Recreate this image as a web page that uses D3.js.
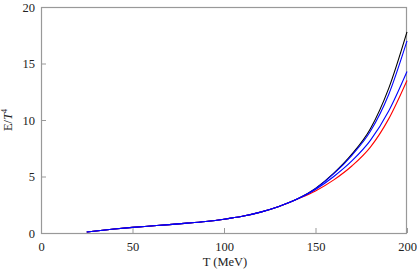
<!DOCTYPE html>
<html><head><meta charset="utf-8">
<script src="https://cdn.jsdelivr.net/npm/d3@7"></script>
<style>body{margin:0;background:#fff}svg{display:block}</style>
</head><body><svg id="c" width="417" height="271"></svg>
<script>
const temps = [25,30,40,50,60,70,80,90,100,110,120,130,140,150,160,170,180,190,200];
const common = [0.09,0.18,0.35,0.5,0.62,0.74,0.87,1.02,1.22,1.48,1.85,2.35,3.0];
const blackTail = [3.95,5.3,7.0,9.23,12.8,17.8];
const blueUpperTail = [3.92,5.25,6.9,9.0,12.26,17.0];
const blueLowerTail = [3.85,5.0,6.4,8.2,10.8,14.3];
const redTail = [3.72,4.7,5.95,7.6,10.1,13.5];
const xTicks = [0,50,100,150,200];
const yTicks = [0,5,10,15,20];
const series = [
  {color:"#000000", vals: common.concat(blackTail)},
  {color:"#ff0000", vals: common.concat(redTail)},
  {color:"#0000ff", vals: common.concat(blueLowerTail)},
  {color:"#0000ff", vals: common.concat(blueUpperTail)}
];
const svg = d3.select("#c");
const L=41,R=407,T=7,B=233;
const x = d3.scaleLinear().domain([0,200]).range([L,R]);
const y = d3.scaleLinear().domain([0,20]).range([B,T]);
const font = "'Liberation Serif', 'Times New Roman', Times, serif";
const ax = svg.append("g").attr("transform",`translate(0,${B})`)
  .call(d3.axisBottom(x).tickValues(xTicks).tickSize(-5).tickPadding(9));
const ay = svg.append("g").attr("transform",`translate(${L},0)`)
  .call(d3.axisLeft(y).tickValues(yTicks).tickSize(-5).tickPadding(6));
[ax,ay].forEach(a=>{
  a.select(".domain").remove();
  a.selectAll("line").attr("stroke","#999");
  a.selectAll("text").style("font-family",font).attr("font-size",12.5).attr("fill","#222");
});
svg.append("rect").attr("x",L+0.5).attr("y",T+0.5).attr("width",R-L-1).attr("height",B-T)
  .attr("fill","none").attr("stroke","#999").attr("stroke-width",1.2);
const line = d3.line().x((d,i)=>x(temps[i])).y(d=>y(d)).curve(d3.curveMonotoneX);
const g = svg.append("g");
series.forEach(s=>{
  g.append("path").attr("d",line(s.vals)).attr("fill","none").attr("stroke",s.color).attr("stroke-width",1.1);
});
svg.append("text").attr("x",(L+R)/2+1).attr("y",266).attr("text-anchor","middle")
  .style("font-family",font).attr("font-size",12.5).attr("fill","#222").text("T (MeV)");
const yl = svg.append("text").attr("transform","translate(12,120) rotate(-90)").attr("text-anchor","middle")
  .style("font-family",font).attr("font-size",12.5).attr("fill","#222");
yl.append("tspan").text("E/");
yl.append("tspan").attr("font-style","italic").text("T");
yl.append("tspan").attr("font-size",8).attr("dy",-5).text("4");
</script></body></html>
